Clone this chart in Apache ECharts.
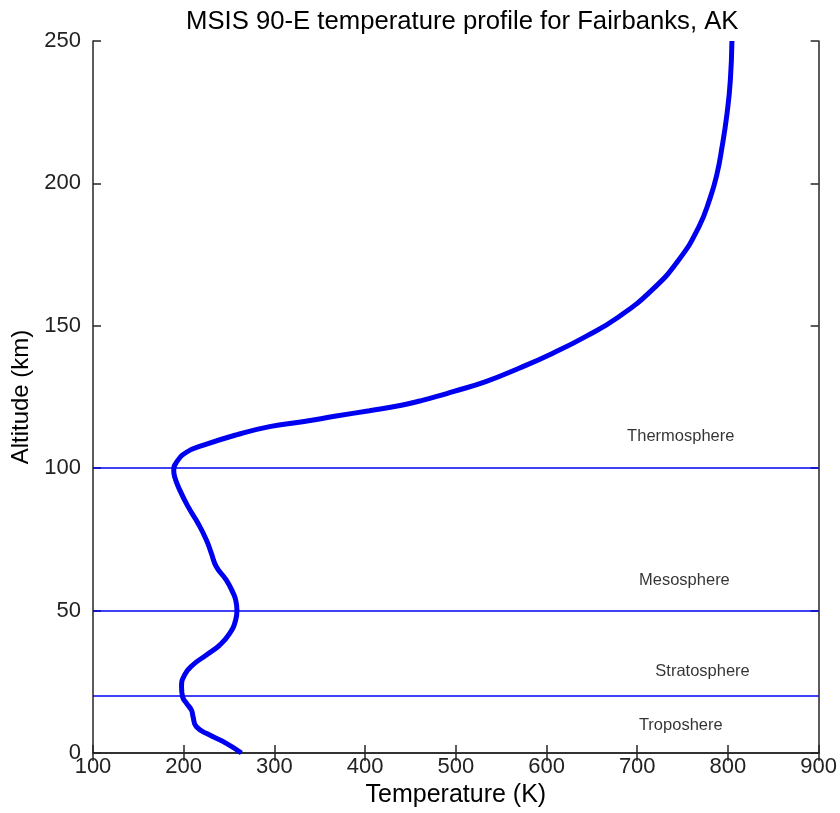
<!DOCTYPE html>
<html><head><meta charset="utf-8">
<script src="https://cdn.jsdelivr.net/npm/echarts@6/dist/echarts.min.js"></script>
<style>html,body{margin:0;padding:0;background:#fff}#c{width:840px;height:813px}</style>
</head><body><div id="c"></div>
<script>
// Temperature (K) vs altitude (km)
const altitude = [0, 3.4, 6.3, 9.2, 12.7, 15, 17.5, 19.8, 23.3, 27.4, 30.9, 34.4, 37.9, 42, 46.7, 50, 53.7, 56.5, 60.7, 65.4, 70.1, 74.8, 80.6, 86.5, 92.3, 97, 99.3, 102.3, 105.6, 108, 111.7, 114.6, 116.3, 118.3, 120.2, 122.2, 123.6, 125.1, 126.8, 130.4, 135.1, 140.3, 146.2, 153.2, 162.6, 173.1, 184.6, 195.1, 203.3, 212.6, 224.3, 236, 250];
const temperature = [263.6, 247, 228.7, 214, 210.3, 208.6, 203, 198.7, 197.6, 201, 210, 225, 239.7, 250.7, 257.3, 258.7, 257.3, 254, 247, 236, 230.5, 225, 215.9, 204.8, 195.7, 190, 189, 192.5, 203, 221, 258, 294.7, 331, 368, 404.7, 441.4, 460, 478, 496, 533, 569.7, 606.4, 643, 679.8, 716.4, 745.7, 767.7, 780.6, 787.9, 793.4, 798.9, 802.6, 804.4];
const layerBoundaries = [20, 50, 100];
const layerNames = ["Thermosphere", "Mesosphere", "Stratosphere", "Troposhere"];
const layerLabelT = [748, 752, 772, 748];
const layerLabelAlt = [111.3, 60.7, 28.8, 9.5];
const xTicks = [100, 200, 300, 400, 500, 600, 700, 800, 900];
const yTicks = [0, 50, 100, 150, 200, 250];

const font = '"Liberation Sans", Arial, Helvetica, sans-serif';
const chart = echarts.init(document.getElementById('c'));
const axisLine = {show: true, lineStyle: {color: '#262626', width: 1.5}};
const tick = {show: true, inside: true, length: 8, lineStyle: {color: '#262626', width: 1.5}};
chart.setOption({
  animation: false,
  backgroundColor: '#fff',
  title: {text: 'MSIS 90-E temperature profile for Fairbanks, AK', left: 181, top: 4,
    textStyle: {fontFamily: font, fontSize: 25.7, fontWeight: 'normal', color: '#000'}},
  grid: {left: 93, right: 20, top: 41, bottom: 60, show: false},
  xAxis: [
    {type: 'value', min: xTicks[0], max: xTicks[xTicks.length-1], interval: 100, position: 'bottom',
     name: 'Temperature (K)', nameLocation: 'middle', nameGap: 27,
     nameTextStyle: {fontFamily: font, fontSize: 25, color: '#000'},
     axisLine, axisTick: tick, splitLine: {show: false},
     axisLabel: {fontFamily: font, fontSize: 22, color: '#222', margin: 3}},
    {type: 'value', min: xTicks[0], max: xTicks[xTicks.length-1], interval: 100, position: 'top',
     axisLine, axisTick: tick, splitLine: {show: false}, axisLabel: {show: false}}
  ],
  yAxis: [
    {type: 'value', min: yTicks[0], max: yTicks[yTicks.length-1], interval: 50, position: 'left',
     name: 'Altitude (km)', nameLocation: 'middle', nameGap: 55, nameRotate: 90,
     nameTextStyle: {fontFamily: font, fontSize: 24, color: '#000'},
     axisLine, axisTick: tick, splitLine: {show: false},
     axisLabel: {fontFamily: font, fontSize: 22, color: '#222', margin: 12}},
    {type: 'value', min: yTicks[0], max: yTicks[yTicks.length-1], interval: 50, position: 'right',
     axisLine, axisTick: tick, splitLine: {show: false}, axisLabel: {show: false}}
  ],
  series: [
    {type: 'line', smooth: 0.5, showSymbol: false, symbol: 'none',
     data: altitude.map((a, i) => [temperature[i], a]),
     lineStyle: {color: '#0000f0', width: 5}, z: 3,
     markLine: {silent: true, symbol: ['none', 'none'], label: {show: false},
       lineStyle: {color: '#0000f0', width: 1.5, type: 'solid'},
       data: layerBoundaries.map(v => ({yAxis: v}))}},
    {type: 'scatter', symbolSize: 0, silent: true,
     data: layerNames.map((n, i) => ({value: [layerLabelT[i], layerLabelAlt[i]], name: n})),
     label: {show: true, position: 'inside', formatter: p => p.name,
       fontFamily: font, fontSize: 16.5, color: '#000', textBorderWidth: 0}}
  ]
});
</script></body></html>
